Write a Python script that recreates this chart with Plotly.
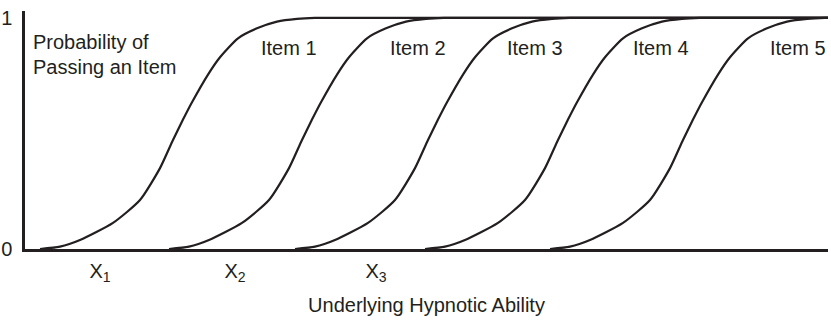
"""
Item characteristic curves: probability of passing vs underlying hypnotic ability
"""

import plotly.graph_objects as go

# Probability levels shared by every curve
PROB = [0, 0.01, 0.039, 0.113, 0.212, 0.35, 0.472, 0.56, 0.635, 0.755, 0.83,
        0.912, 0.955, 0.984, 0.996, 1.0, 1.0]

# Ability positions of each curve's points
ITEM_1_X = [15, 35, 55, 88, 115, 135, 148, 158, 167, 183, 195, 213, 232, 252, 272, 290, 810]
ITEM_2_X = [144, 164, 184, 217, 244, 264, 277, 287, 296, 312, 324, 342, 361, 381, 401, 419, 810]
ITEM_3_X = [270, 290, 310, 343, 370, 390, 403, 413, 422, 438, 450, 468, 487, 507, 527, 545, 810]
ITEM_4_X = [400, 420, 440, 473, 500, 520, 533, 543, 552, 568, 580, 598, 617, 637, 657, 675, 810]
ITEM_5_X = [525, 545, 565, 598, 625, 645, 658, 668, 677, 693, 705, 723, 742, 762, 782, 800, 810]

ITEM_NAMES = ['Item 1', 'Item 2', 'Item 3', 'Item 4', 'Item 5']
ITEM_LABEL_X = [264, 393, 510, 636, 773]
ITEM_LABEL_Y = 0.872

# Tick labels on the ability axis
X_TICK_VALS = [75, 210, 351]
X_TICK_TEXT = ['X<sub>1</sub>', 'X<sub>2</sub>', 'X<sub>3</sub>']

INK = '#231f20'
FONT = 'Liberation Sans, Arial, Helvetica, sans-serif'

fig = go.Figure()

for name, xs in zip(ITEM_NAMES, [ITEM_1_X, ITEM_2_X, ITEM_3_X, ITEM_4_X, ITEM_5_X]):
    fig.add_scatter(
        x=xs,
        y=PROB,
        mode='lines',
        name=name,
        line=dict(color=INK, width=2.2, shape='spline', smoothing=0.6),
        hovertemplate=name + '<br>Ability: %{x}<br>P(pass): %{y:.2f}<extra></extra>'
    )

# Rótulos dos itens
for name, lx in zip(ITEM_NAMES, ITEM_LABEL_X):
    fig.add_annotation(x=lx, y=ITEM_LABEL_Y, text=name, showarrow=False,
                       xanchor='center', yanchor='middle', font=dict(size=20, color=INK))

fig.add_annotation(x=6, y=0.894, text='Probability of', showarrow=False,
                   xanchor='left', yanchor='middle', font=dict(size=20, color=INK))
fig.add_annotation(x=6, y=0.786, text='Passing an Item', showarrow=False,
                   xanchor='left', yanchor='middle', font=dict(size=20, color=INK))

fig.update_layout(
    width=831,
    height=322,
    margin=dict(l=25, r=3, t=11, b=73),
    paper_bgcolor='white',
    plot_bgcolor='white',
    showlegend=False,
    font=dict(family=FONT, size=20, color=INK),
    xaxis=dict(
        range=[0, 803],
        automargin=False,
        showgrid=False,
        zeroline=False,
        showline=True,
        linewidth=3,
        linecolor=INK,
        tickmode='array',
        tickvals=X_TICK_VALS,
        ticktext=X_TICK_TEXT,
        ticks='',
        ticklabelstandoff=2,
        tickfont=dict(size=20),
        title=dict(text='Underlying Hypnotic Ability', standoff=14, font=dict(size=20)),
    ),
    yaxis=dict(
        range=[0, 1.03],
        automargin=False,
        showgrid=False,
        zeroline=False,
        showline=True,
        linewidth=2.5,
        linecolor=INK,
        tickmode='array',
        tickvals=[0, 1],
        ticktext=['0', '1'],
        ticks='',
        ticklabelstandoff=6,
        tickfont=dict(size=20),
    ),
)

# Remove a margem padrão do <body> para a figura ocupar a janela inteira
fig.write_html("out.html", config={'displayModeBar': False},
               post_script="document.body.style.margin='0px';")
